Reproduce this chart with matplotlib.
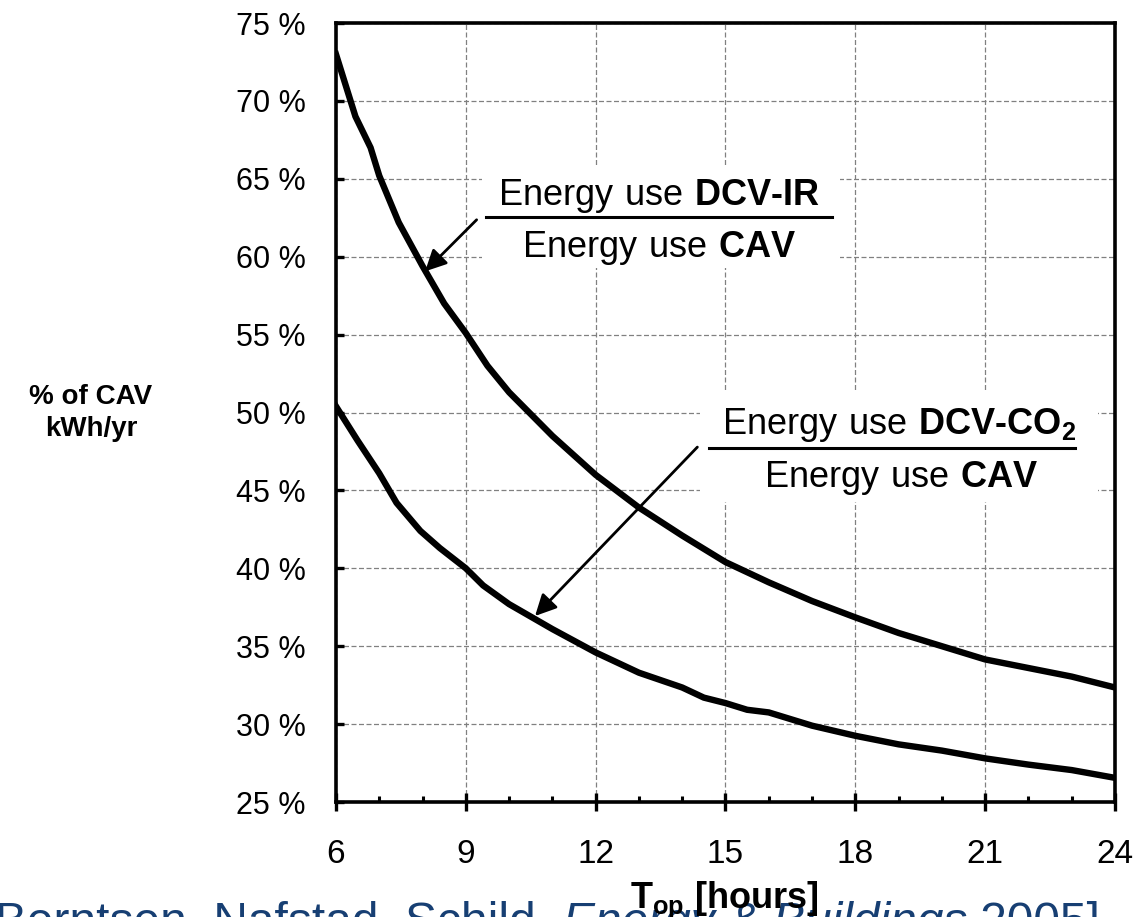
import numpy as np
import matplotlib
matplotlib.use("Agg")
import matplotlib.pyplot as plt
from matplotlib.patches import Rectangle
from matplotlib.ticker import MultipleLocator, FuncFormatter

plt.rcParams['font.family'] = ['Liberation Sans', 'DejaVu Sans']
plt.rcParams['mathtext.fontset'] = 'custom'
plt.rcParams['mathtext.rm'] = 'Liberation Sans'
plt.rcParams['mathtext.bf'] = 'Liberation Sans:bold'

# operating hours vs energy use (% of CAV)
hours_ir = [6, 6.45, 6.8, 7.0, 7.45, 8.0, 8.5, 9.0, 9.5, 10.0, 11, 12, 13, 14,
            15, 16, 17, 18, 19, 20, 21, 22, 23, 24]
dcv_ir = [73.0, 69.0, 67.0, 65.2, 62.2, 59.4, 57.0, 55.1, 53.0, 51.3, 48.5, 46.0,
          43.9, 42.1, 40.4, 39.1, 37.9, 36.85, 35.85, 35.0, 34.15, 33.6, 33.05, 32.35]

hours_co2 = [6, 6.5, 7, 7.4, 7.95, 8.4, 9.0, 9.4, 10.0, 10.5, 11, 12, 13, 14,
             14.5, 15, 15.5, 16, 17, 18, 19, 20, 21, 22, 23, 24]
dcv_co2 = [50.4, 48.2, 46.1, 44.2, 42.4, 41.3, 40.0, 38.9, 37.7, 36.9, 36.1, 34.6,
           33.3, 32.35, 31.7, 31.35, 30.92, 30.75, 29.9, 29.25, 28.7, 28.3, 27.8,
           27.4, 27.05, 26.55]

x_ticks = [6, 9, 12, 15, 18, 21, 24]
y_ticks = [25, 30, 35, 40, 45, 50, 55, 60, 65, 70, 75]

fig = plt.figure(figsize=(11.35, 9.17), dpi=100)
ax = fig.add_axes([0.296, 0.1254, 0.6864, 0.8495])

ax.plot(hours_ir, dcv_ir, color='black', lw=4.6, zorder=3, solid_joinstyle='miter')
ax.plot(hours_co2, dcv_co2, color='black', lw=4.6, zorder=3, solid_joinstyle='miter')

ax.set_xlim(6, 24)
ax.set_ylim(25, 75)
ax.set_xticks(x_ticks)
ax.set_yticks(y_ticks)
ax.xaxis.set_minor_locator(MultipleLocator(1))
ax.yaxis.set_major_formatter(FuncFormatter(lambda v, p: f"{v:.0f} %"))

ax.grid(True, which='major', color='#808080', linestyle=(0, (4, 2)), lw=0.9)
for s in ax.spines.values():
    s.set_linewidth(2.6)

ax.tick_params(axis='x', which='major', direction='inout', length=13, width=2.4,
               labelsize=24, pad=20)
ax.tick_params(axis='x', which='minor', direction='in', length=4, width=2.2)
ax.tick_params(axis='y', which='major', direction='in', length=6, width=2.4,
               labelsize=22, pad=22)

# white panels behind the fraction labels
ax.add_patch(Rectangle((9.37, 59.3), 8.27, 6.6, facecolor='white', edgecolor='none', zorder=1.8))
ax.add_patch(Rectangle((14.41, 44.23), 9.19, 7.24, facecolor='white', edgecolor='none', zorder=1.8))

fs = 26
# DCV-IR label
ax.text(13.46, 63.33, r'$\mathrm{Energy\ use\ }$DCV-IR', fontsize=fs, fontweight='bold',
        ha='center', va='baseline', zorder=4)
ax.plot([9.46, 17.45], [62.58, 62.58], color='black', lw=2.2, zorder=4)
ax.text(13.46, 60.0, r'$\mathrm{Energy\ use\ }$CAV', fontsize=fs, fontweight='bold',
        ha='center', va='baseline', zorder=4)
ax.annotate('', xy=(8.06, 59.06), xytext=(9.25, 62.37),
            arrowprops=dict(arrowstyle='-|>', color='black', lw=2.0, mutation_scale=32,
                            shrinkA=0, shrinkB=0), zorder=4)

# DCV-CO2 label
ax.text(19.0, 48.59, r'$\mathrm{Energy\ use\ }$DCV-CO$_\mathbf{2}$', fontsize=fs,
        fontweight='bold', ha='center', va='baseline', zorder=4)
ax.plot([14.63, 23.08], [47.74, 47.74], color='black', lw=2.2, zorder=4)
ax.text(19.05, 45.19, r'$\mathrm{Energy\ use\ }$CAV', fontsize=fs, fontweight='bold',
        ha='center', va='baseline', zorder=4)
ax.annotate('', xy=(10.6, 36.94), xytext=(14.35, 47.78),
            arrowprops=dict(arrowstyle='-|>', color='black', lw=2.0, mutation_scale=32,
                            shrinkA=0, shrinkB=0), zorder=4)

fig.text(91 / 1135, 1 - 413 / 917, '% of CAV\nkWh/yr', fontsize=20, fontweight='bold',
         ha='center', va='center', multialignment='center', linespacing=1.3)

# citation line, mostly cut off at the bottom edge
cite_col = '#173f73'
c1 = fig.text(-0.004, -0.032, 'Berntsen, Nafstad, Schild, ', fontsize=34.5,
              color=cite_col, ha='left', va='bottom')
c2 = ax.annotate('Energy & Buildings', xy=(1, 0), xycoords=c1, fontsize=34.5,
                 color=cite_col, style='italic', ha='left', va='bottom',
                 annotation_clip=False)
c3 = ax.annotate(' 2005]', xy=(1, 0), xycoords=c2, fontsize=34.5,
                 color=cite_col, ha='left', va='bottom', annotation_clip=False)

# x axis title drawn over the citation
fig.text(724 / 1135, 1 - 908 / 917, r'T$_\mathbf{op}$ [hours]', fontsize=26,
         fontweight='bold', ha='center', va='baseline')

fig.savefig('out.png', dpi=100)
